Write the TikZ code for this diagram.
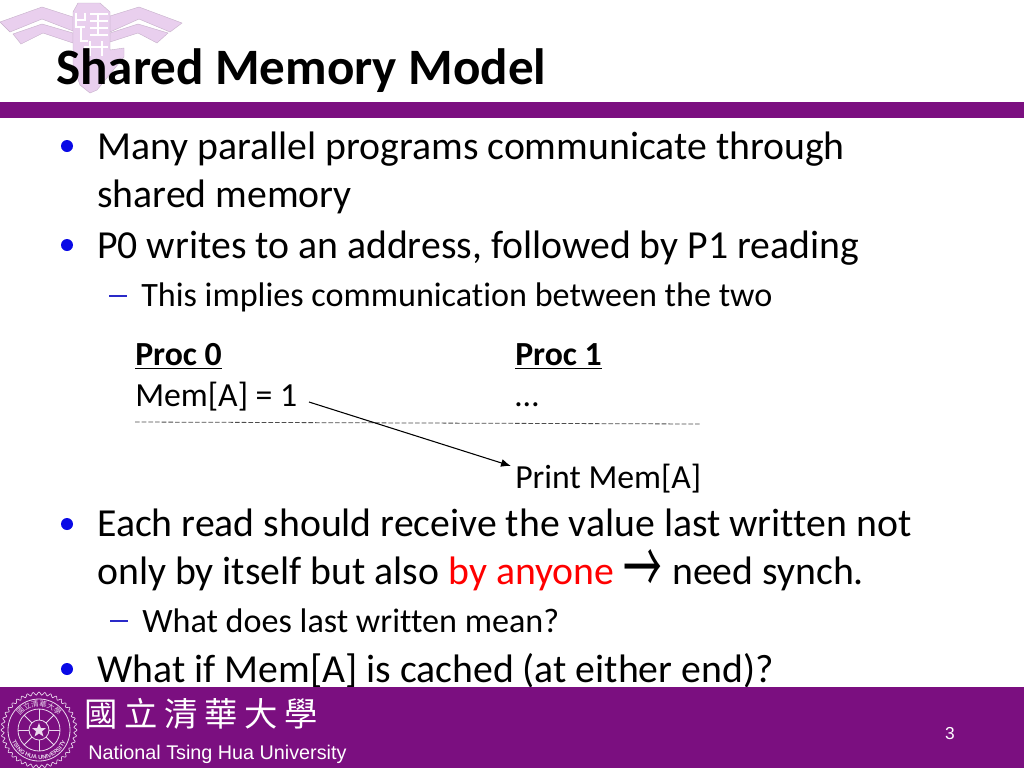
\documentclass[tikz,border=0pt]{standalone}
\usepackage{fontspec}
\setmainfont{Carlito}[Ligatures=NoCommon]
\newfontfamily\arialf{Liberation Sans}
\newfontfamily\cjkf{Noto Sans CJK TC}
\usetikzlibrary{arrows.meta,decorations.text}
\definecolor{nthu}{HTML}{7B0F80}
\definecolor{wm}{HTML}{E9CFEE}
\definecolor{bul}{HTML}{0A0AE6}
\definecolor{dsh}{HTML}{2A2AC8}
\definecolor{embc}{HTML}{EBD9EE}
\tikzset{
 body/.style={anchor=base west,inner sep=0,font=\fontsize{29.8}{29.8}\selectfont,text=black},
 sub/.style={anchor=base west,inner sep=0,font=\fontsize{25.6}{25.6}\selectfont,text=black},
 code/.style={anchor=base west,inner sep=0,font=\fontsize{25.3}{25.3}\selectfont,text=black},
 bullet/.style={circle,fill=bul,inner sep=0,minimum size=9pt},
 dashmark/.style={draw=dsh,line width=0.9pt},
 wmshape/.style={fill=wm,draw=wm!85!black,line width=0.3pt},
 emb/.style={draw=embc,line width=0.6pt},
}
\begin{document}
\begin{tikzpicture}[x=0.75pt,y=-0.75pt]
\useasboundingbox (0,0) rectangle (1024,768);
\fill[white] (0,0) rectangle (1024,768);
% watermark
\path[wmshape] (0,22) -- (42,7) -- (73,17) -- (73,31) -- (42,19) -- (10,32) -- cycle;
\path[wmshape] (182,23) -- (139,7) -- (110,16) -- (110,32) -- (139,19) -- (170,32) -- cycle;
\path[wmshape] (13,34) -- (42,24) -- (73,33) -- (73,43) -- (43,33) -- (21,44) -- cycle;
\path[wmshape] (168,33) -- (138,24) -- (110,33) -- (110,42) -- (138,33) -- (157,43) -- cycle;
\path[wmshape] (73,12) -- (78,3) -- (100,3) -- (110,12) -- (110,50) -- (124,48) -- (124,57) -- (97,90) -- (90,93) -- (80,85) -- (73,65) -- cycle;
\draw[white,line width=2.2pt] (76,13)--(76,27)--(85,27) (85,13)--(85,20)--(76,20) (81,27)--(81,41)--(88,41)
 (90,14)--(108,14) (98,14)--(98,35) (90,21)--(108,21) (90,28)--(108,28) (90,35)--(108,35)
 (84,47)--(108,47) (90,41)--(90,56) (102,41)--(102,56);
% header bar
\fill[nthu] (0,102) rectangle (1024,118);
\node[anchor=base west,inner sep=0,font=\bfseries\fontsize{38.3}{38.3}\selectfont] (title) at (56,84) {Shared Memory Model};
% body
\node[bullet] (b1) at (67,146) {};
\node[body] (t1) at (97,159.5) {Many parallel programs communicate through};
\node[body] (t1b) at (97,207.5) {shared memory};
\node[bullet] (b2) at (67,245) {};
\node[body] (t2) at (97,258.5) {P0 writes to an address, followed by P1 reading};
\draw[dashmark] (109,296) -- (127,296);
\node[sub] (t3) at (141,306.5) {This implies communication between the two};
% code
\node[code] (p0) at (135,365.5) {\textbf{Proc 0}};
\draw[line width=0.9pt] (135,368.5) -- (222,368.5);
\node[code] (m0) at (135,406.5) {Mem[A] = 1};
\node[code] (p1) at (515,365.5) {\textbf{Proc 1}};
\draw[line width=0.9pt] (515,368.5) -- (602,368.5);
\node[code] (dots) at (515,406.5) {…};
\node[code] (pr) at (515,488.5) {Print Mem[A]};
\coordinate (dl) at (135,422);
\coordinate (dr) at (700,424);
\draw[dash pattern=on 3.5pt off 1.5pt,line width=0.6pt,black!70] (dl) -- (dr);
\coordinate (as) at (309,402);
\coordinate (ae) at (511,466);
\draw[-{Latex[length=7.5pt,width=6pt]},line width=0.8pt] (as) -- (ae);
% lower body
\node[bullet] (b3) at (67,524) {};
\node[body] (t4) at (97,536.5) {Each read should receive the value last written not};
\node[body] (t5) at (97,584.5) {only by itself but also \textcolor{red}{by anyone}};
\node[anchor=center,inner sep=0,font=\cjkf\fontsize{29}{29}\selectfont] (arw) at (643,572) {\scalebox{1}[1.9]{→}};
\node[body] (t5b) at (672,584.5) {need synch.};
\draw[dashmark] (110,621) -- (128,621);
\node[sub] (t6) at (142,632.5) {What does last written mean?};
\node[bullet] (b4) at (67,669) {};
\node[body] (t7) at (97,682.5) {What if Mem[A] is cached (at either end)?};
% footer
\fill[nthu] (0,687) rectangle (1024,768);
\node[anchor=base west,inner sep=0,text=white,font=\cjkf\fontsize{25}{25}\selectfont] (cn) at (84,726) {國\hspace{5pt}立\hspace{5pt}清\hspace{5pt}華\hspace{5pt}大\hspace{5pt}學};
\node[anchor=base west,inner sep=0,text=white,font=\arialf\fontsize{14.83}{14.83}\selectfont] (en) at (88,759) {National Tsing Hua University};
\node[anchor=base,inner sep=0,text=white,font=\arialf\fontsize{13}{13}\selectfont] (pg) at (950,739) {3};
% emblem
\coordinate (c) at (39,730);
\draw[emb,line width=0.5pt] plot[samples=241,domain=0:360] ({39+(36.5+1.5*cos(40*\x))*cos(\x)},{730+(36.5+1.5*cos(40*\x))*sin(\x)}) -- cycle;
\draw[emb] (c) circle (31);
\draw[emb] (c) circle (21);
\draw[emb] (c) circle (10);
\foreach \a in {0,45,...,315}{\draw[emb] ({39+10*cos(\a)},{730+10*sin(\a)}) -- ({39+21*cos(\a)},{730+21*sin(\a)});}
\fill[embc] plot coordinates {(39,723) (40.8,728) (46,728) (42,731.3) (43.4,736.5) (39,733.5) (34.6,736.5) (36,731.3) (32,728) (37.2,728)} -- cycle;
\path[decorate,decoration={text along path,text={|\arialf\bfseries\fontsize{4.4}{4.4}\selectfont\color{embc}|TSING HUA UNIVERSITY},text align=center}] ({39+29.5*cos(180)},{730+29.5*sin(180)}) arc[start angle=180,end angle=0,radius=29.5];
\path[decorate,decoration={text along path,text={|\cjkf\fontsize{5.5}{5.5}\selectfont\color{embc}|國立清華大學},text align=center}] ({39+23.5*cos(215)},{730+23.5*sin(215)}) arc[start angle=215,end angle=325,radius=23.5];
\end{tikzpicture}
\end{document}
